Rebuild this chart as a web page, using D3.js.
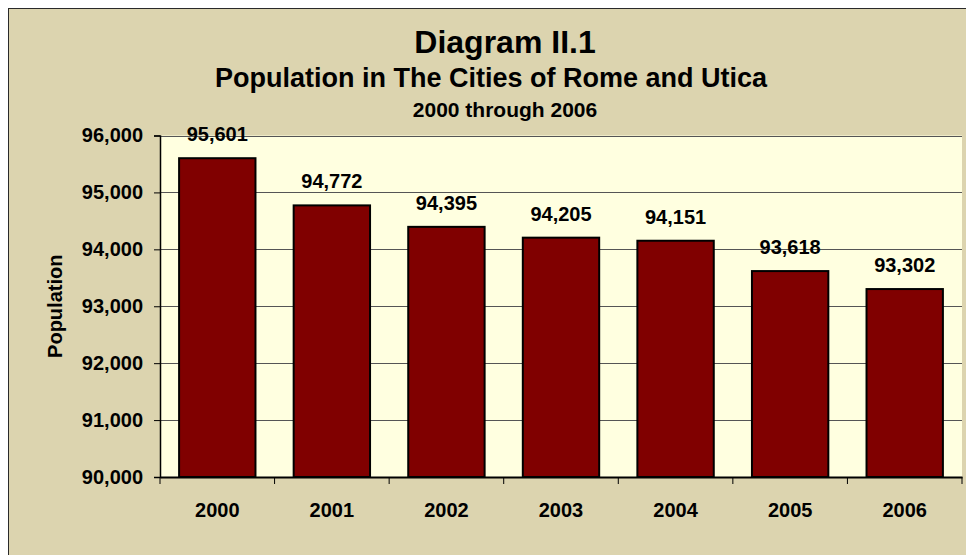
<!DOCTYPE html>
<html lang="en">
<meta charset="utf-8">
<head>
    <script src='https://d3js.org/d3.v7.min.js'></script>
    <style>
        body { margin: 0; background: #fff; }
        text { font-family: 'Liberation Sans', Arial, sans-serif; font-weight: bold; fill: #000; }
    </style>
</head>
<body>
<script>

// data
var years = ["2000", "2001", "2002", "2003", "2004", "2005", "2006"]
var population = [95601, 94772, 94395, 94205, 94151, 93618, 93302]
var yTicks = [90000, 91000, 92000, 93000, 94000, 95000, 96000]

var titleLines = ["Diagram II.1", "Population in The Cities of Rome and Utica", "2000 through 2006"]

var width = 966;
var height = 555;

// plot area
var plotLeft = 160, plotRight = 962, plotTop = 135.5, plotBottom = 477;

var svg = d3.select('body')
    .append("svg")
    .attr("width", width)
    .attr("height", height)

// outer frame
svg.append("rect")
    .attr("x", 8.5)
    .attr("y", 8.5)
    .attr("width", 1000)
    .attr("height", 600)
    .attr("fill", "#DCD4AF")
    .attr("stroke", "#2a2a2a")
    .attr("stroke-width", 1)

svg.append("rect")
    .attr("x", plotLeft)
    .attr("y", plotTop)
    .attr("width", plotRight - plotLeft)
    .attr("height", plotBottom - plotTop)
    .attr("fill", "#FFFFE0")

var x = d3.scaleBand()
    .domain(years)
    .range([plotLeft, plotRight])
    .paddingInner(1 / 3)
    .paddingOuter(1 / 6)

var y = d3.scaleLinear()
    .domain([90000, 96000])
    .range([plotBottom, plotTop])

// gridlines
svg.append("g")
    .selectAll("line")
    .data(yTicks.slice(1))
    .join("line")
    .attr("x1", plotLeft)
    .attr("x2", plotRight)
    .attr("y1", function(d) { return Math.round(y(d)) + 0.5 })
    .attr("y2", function(d) { return Math.round(y(d)) + 0.5 })
    .attr("stroke", "#555")
    .attr("stroke-width", 1.2)

// bars
svg.append("g")
    .selectAll("rect")
    .data(population)
    .join("rect")
    .attr("x", function(d, i) { return x(years[i]) })
    .attr("y", function(d) { return y(d) })
    .attr("width", x.bandwidth())
    .attr("height", function(d) { return plotBottom - y(d) })
    .attr("fill", "#800000")
    .attr("stroke", "#000")
    .attr("stroke-width", 2)

// value labels
svg.append("g")
    .selectAll("text")
    .data(population)
    .join("text")
    .attr("x", function(d, i) { return x(years[i]) + x.bandwidth() / 2 })
    .attr("y", function(d) { return y(d) - 17 })
    .attr("text-anchor", "middle")
    .style("font-size", "20px")
    .text(function(d) { return d3.format(",")(d) })

// Y axis
var yAxis = svg.append("g")
    .attr("transform", "translate(" + plotLeft + ",0)")
    .call(d3.axisLeft(y)
        .tickValues(yTicks)
        .tickFormat(d3.format(","))
        .tickSize(6)
        .tickPadding(11))
yAxis.select(".domain").attr("stroke", "#000").attr("stroke-width", 1.5)
yAxis.selectAll(".tick line").attr("stroke", "#000")
yAxis.selectAll("text")
    .style("font-size", "20px")
    .style("font-family", "'Liberation Sans', Arial, sans-serif")
    .style("font-weight", "bold")

// X axis, ticks at category boundaries
var xAxis = svg.append("g")
    .attr("transform", "translate(0," + plotBottom + ")")
    .call(d3.axisBottom(x).tickSize(0).tickPadding(26))
xAxis.select(".domain").attr("stroke", "#000").attr("stroke-width", 2)
xAxis.selectAll("text")
    .style("font-size", "20px")
    .style("font-family", "'Liberation Sans', Arial, sans-serif")
    .style("font-weight", "bold")

var step = x.step()
xAxis.selectAll(".boundary")
    .data(d3.range(years.length + 1))
    .join("line")
    .attr("class", "boundary")
    .attr("x1", function(d) { return plotLeft + d * step })
    .attr("x2", function(d) { return plotLeft + d * step })
    .attr("y1", 0)
    .attr("y2", 7)
    .attr("stroke", "#000")

// axis title
svg.append("text")
    .attr("transform", "translate(62," + (plotTop + plotBottom) / 2 + ") rotate(-90)")
    .attr("text-anchor", "middle")
    .style("font-size", "20px")
    .text("Population")

// titles
svg.append("text")
    .attr("x", 505)
    .attr("y", 53)
    .attr("text-anchor", "middle")
    .style("font-size", "32px")
    .text(titleLines[0])

svg.append("text")
    .attr("x", 491)
    .attr("y", 87)
    .attr("text-anchor", "middle")
    .style("font-size", "27px")
    .text(titleLines[1])

svg.append("text")
    .attr("x", 505)
    .attr("y", 117)
    .attr("text-anchor", "middle")
    .style("font-size", "21px")
    .text(titleLines[2])

</script>
</body>
</html>
